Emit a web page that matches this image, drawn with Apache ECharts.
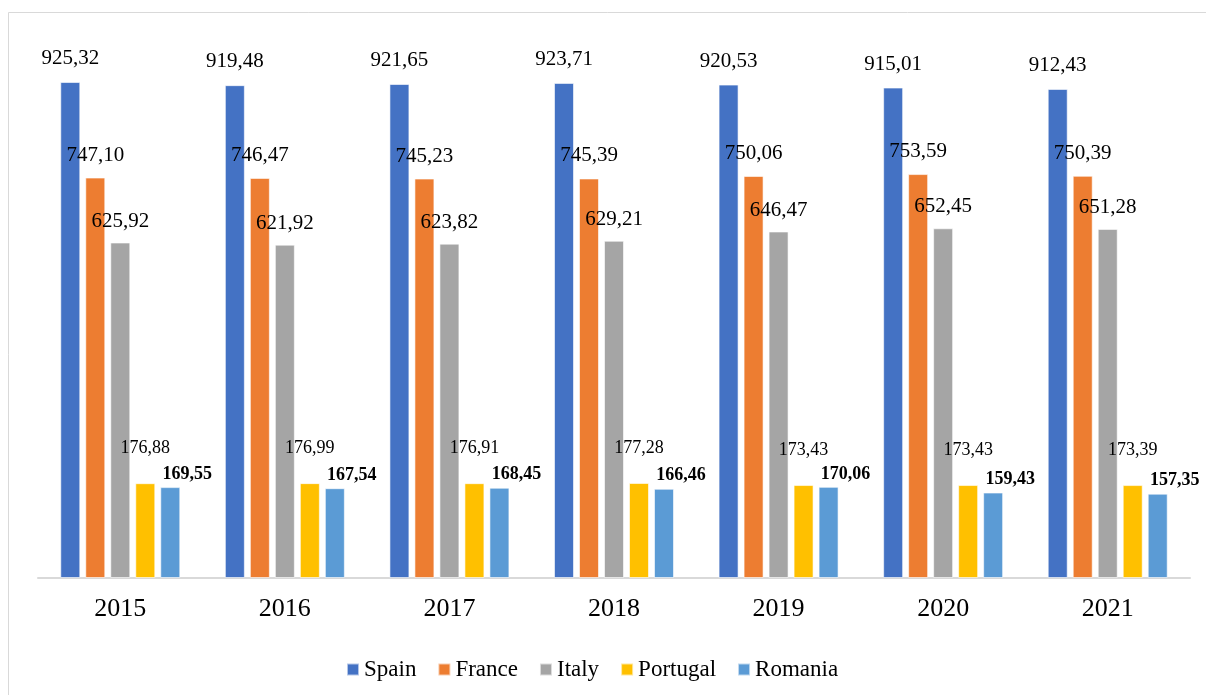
<html>
<head>
    <meta charset='utf-8'/>
    <title>Bar chart</title>
    <style>
        body {
            margin: 0;
            padding: 0;
        }

        #chart {
            position: absolute;
            top: 0;
            left: 0;
            width: 1206px;
            height: 695px;
        }
    </style>
</head>
<body>
<div id='chart'></div>
<script type="text/javascript" src="https://cdn.jsdelivr.net/npm/echarts@6/dist/echarts.min.js"></script>
<script type="text/javascript">
    var years = ['2015', '2016', '2017', '2018', '2019', '2020', '2021'];
    var countries = ['Spain', 'France', 'Italy', 'Portugal', 'Romania'];
    var colors = ['#4472C4', '#ED7D31', '#A5A5A5', '#FFC000', '#5B9BD5'];
    var spain = [925.32, 919.48, 921.65, 923.71, 920.53, 915.01, 912.43];
    var france = [747.10, 746.47, 745.23, 745.39, 750.06, 753.59, 750.39];
    var italy = [625.92, 621.92, 623.82, 629.21, 646.47, 652.45, 651.28];
    var portugal = [176.88, 176.99, 176.91, 177.28, 173.43, 173.43, 173.39];
    var romania = [169.55, 167.54, 168.45, 166.46, 170.06, 159.43, 157.35];

    var font = 'Liberation Serif';

    function fmt(p) {
        return p.value.toFixed(2).replace('.', ',');
    }

    function bar(i, data, label) {
        return {
            name: countries[i],
            type: 'bar',
            data: data,
            barWidth: 20,
            barGap: '25%',
            itemStyle: {color: colors[i], borderColor: 'rgba(255,255,255,0.6)', borderWidth: 1},
            label: Object.assign({
                show: true,
                position: 'top',
                formatter: fmt,
                color: '#000',
                fontFamily: font
            }, label)
        };
    }

    var chart = echarts.init(document.getElementById('chart'));
    var option = {
        backgroundColor: '#fff',
        animation: false,
        textStyle: {fontFamily: font},
        graphic: [{
            type: 'rect',
            shape: {x: 8.5, y: 12.5, width: 1250, height: 750},
            style: {fill: 'none', stroke: '#d9d9d9', lineWidth: 1}
        }],
        grid: {
            left: 38,
            right: 16,
            top: 42,
            bottom: 117
        },
        legend: {
            left: 346,
            top: 658,
            padding: 0,
            itemWidth: 12,
            itemHeight: 12,
            itemGap: 21,
            icon: 'rect',
            textStyle: {fontFamily: font, fontSize: 23, color: '#000'},
            data: countries
        },
        xAxis: {
            type: 'category',
            data: years,
            axisLine: {lineStyle: {color: '#d9d9d9', width: 2}},
            axisTick: {show: false},
            axisLabel: {fontFamily: font, fontSize: 26, color: '#000', margin: 18}
        },
        yAxis: {
            type: 'value',
            min: 0,
            max: 1000,
            show: false,
            splitLine: {show: false}
        },
        series: [
            bar(0, spain, {fontSize: 21, distance: 13}),
            bar(1, france, {fontSize: 21, distance: 12}),
            bar(2, italy, {fontSize: 21, distance: 11}),
            bar(3, portugal, {fontSize: 18, distance: 26}),
            bar(4, romania, {fontSize: 18, fontWeight: 'bold', distance: 4, offset: [17, 0]})
        ]
    };
    chart.setOption(option);
</script>
</body>
</html>
